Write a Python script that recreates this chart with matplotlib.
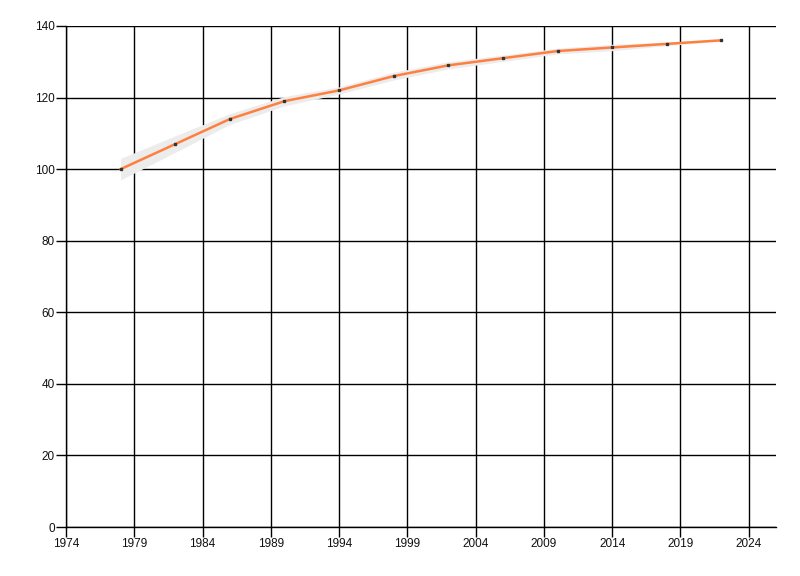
import matplotlib
matplotlib.use("Agg")
import matplotlib.pyplot as plt

years = [1978, 1982, 1986, 1990, 1994, 1998, 2002, 2006, 2010, 2014, 2018, 2022]
values = [100, 107, 114, 119, 122, 126, 129, 131, 133, 134, 135, 136]
band = [3.0, 2.3, 1.5, 1.3, 1.0, 1.1, 1.0, 0.9, 0.8, 0.9, 0.5, 0.2]
xticks = [1974, 1979, 1984, 1989, 1994, 1999, 2004, 2009, 2014, 2019, 2024]
yticks = [0, 20, 40, 60, 80, 100, 120, 140]

lower = [v - b for v, b in zip(values, band)]
upper = [v + b for v, b in zip(values, band)]

plt.rcParams['font.family'] = ['Liberation Sans', 'DejaVu Sans']

fig = plt.figure(figsize=(8, 5.76), dpi=100)
ax = fig.add_axes([66 / 800, 49 / 576, 710 / 800, 501 / 576])

ax.fill_between(years, lower, upper, color='#ececec', linewidth=0, zorder=2)
ax.plot(years, values, color='#ff7f3f', linewidth=1.8, zorder=3)
ax.plot(years, values, linestyle='none', marker='s', markersize=1.8,
        color='#333333', zorder=4)

ax.set_xlim(1974, 2026)
ax.set_ylim(0, 140)
ax.set_xticks(xticks)
ax.set_yticks(yticks)
ax.grid(True, color='black', linewidth=1, zorder=1)
ax.set_axisbelow(True)

for side in ['top', 'right']:
    ax.spines[side].set_visible(False)
for side in ['left', 'bottom']:
    ax.spines[side].set_color('black')
    ax.spines[side].set_linewidth(1)

ax.tick_params(axis='both', length=7, width=1, color='black',
               labelsize=8.5, labelcolor='#111111', pad=1)

fig.savefig('out.png', dpi=100)
